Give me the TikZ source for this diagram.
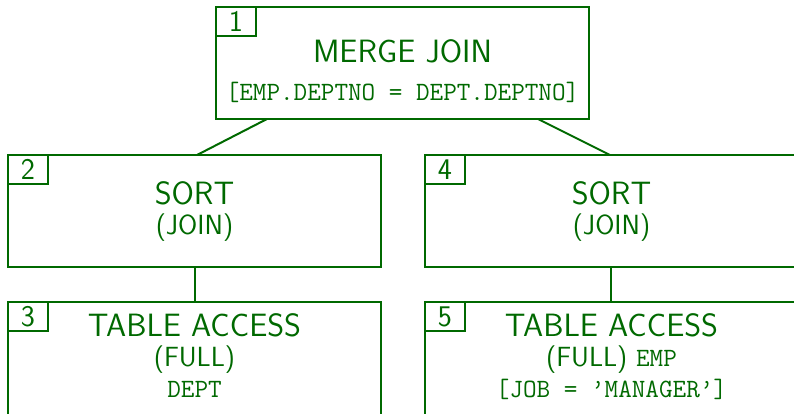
\documentclass[tikz,border=0pt]{standalone}
\usepackage{fontspec}
\definecolor{dgreen}{RGB}{0,105,0}
\newcommand{\mainfs}{\fontsize{24.2}{28}\selectfont\sffamily}
\newcommand{\subfs}{\fontsize{20.8}{24}\selectfont\sffamily}
\newcommand{\numfs}{\fontsize{22.5}{24}\selectfont\sffamily}
\newcommand{\ttfs}{\fontsize{19.8}{23}\selectfont\ttfamily}
\begin{document}
\begin{tikzpicture}[x=0.75pt,y=-0.75pt,
  every node/.style={text=dgreen, inner sep=0pt, outer sep=0pt},
  opbox/.style={draw=dgreen, line width=1.5pt, rectangle, anchor=north west,
    minimum width=279.75pt, minimum height=84pt},
  tallbox/.style={opbox, minimum height=92pt},
  numbox/.style={draw=dgreen, line width=0.9pt, rectangle, anchor=north west,
    minimum width=30pt, minimum height=21.75pt, font=\numfs},
  conn/.style={draw=dgreen, line width=1.5pt},
  mainline/.style={anchor=base, font=\mainfs},
  subline/.style={anchor=base, font=\subfs},
  ttline/.style={anchor=base, font=\ttfs}]
\useasboundingbox (0,0) rectangle (794,414);

% boxes
\node[opbox] (b1) at (216,7) {};
\node[opbox] (b2) at (8,155) {};
\node[opbox] (b4) at (425,155) {};
\node[tallbox] (b3) at (8,302) {};
\node[tallbox] (b5) at (425,302) {};

% number boxes
\node[numbox] (n1) at (b1.north west) {1};
\node[numbox] (n2) at (b2.north west) {2};
\node[numbox] (n3) at (b3.north west) {3};
\node[numbox] (n4) at (b4.north west) {4};
\node[numbox] (n5) at (b5.north west) {5};

% texts
\node[mainline] (t1a) at (402.5,62) {MERGE JOIN};
\node[ttline] (t1b) at (402.5,100) {[EMP.DEPTNO = DEPT.DEPTNO]};
\node[mainline] (t2a) at (194.5,204) {SORT};
\node[subline] (t2b) at (194.5,234) {(JOIN)};
\node[mainline] (t4a) at (611.5,204) {SORT};
\node[subline] (t4b) at (611.5,234) {(JOIN)};
\node[mainline] (t3a) at (194.5,336) {TABLE ACCESS};
\node[subline] (t3b) at (194.5,366) {(FULL)};
\node[ttline] (t3c) at (194.5,397) {DEPT};
\node[mainline] (t5a) at (611.5,336) {TABLE ACCESS};
\node[subline] (t5b) at (611.5,366) {(FULL) {\ttfs EMP}};
\node[ttline] (t5c) at (611.5,397) {[JOB = ’MANAGER’]};

% connectors
\draw[conn] ([xshift=38.25pt]b1.south west) -- ([xshift=141.75pt]b2.north west);
\draw[conn] ([xshift=241.5pt]b1.south west) -- ([xshift=138.75pt]b4.north west);
\draw[conn] ([xshift=140.25pt]b2.south west) -- ([xshift=140.25pt]b3.north west);
\draw[conn] ([xshift=139.5pt]b4.south west) -- ([xshift=139.5pt]b5.north west);
\end{tikzpicture}
\end{document}
